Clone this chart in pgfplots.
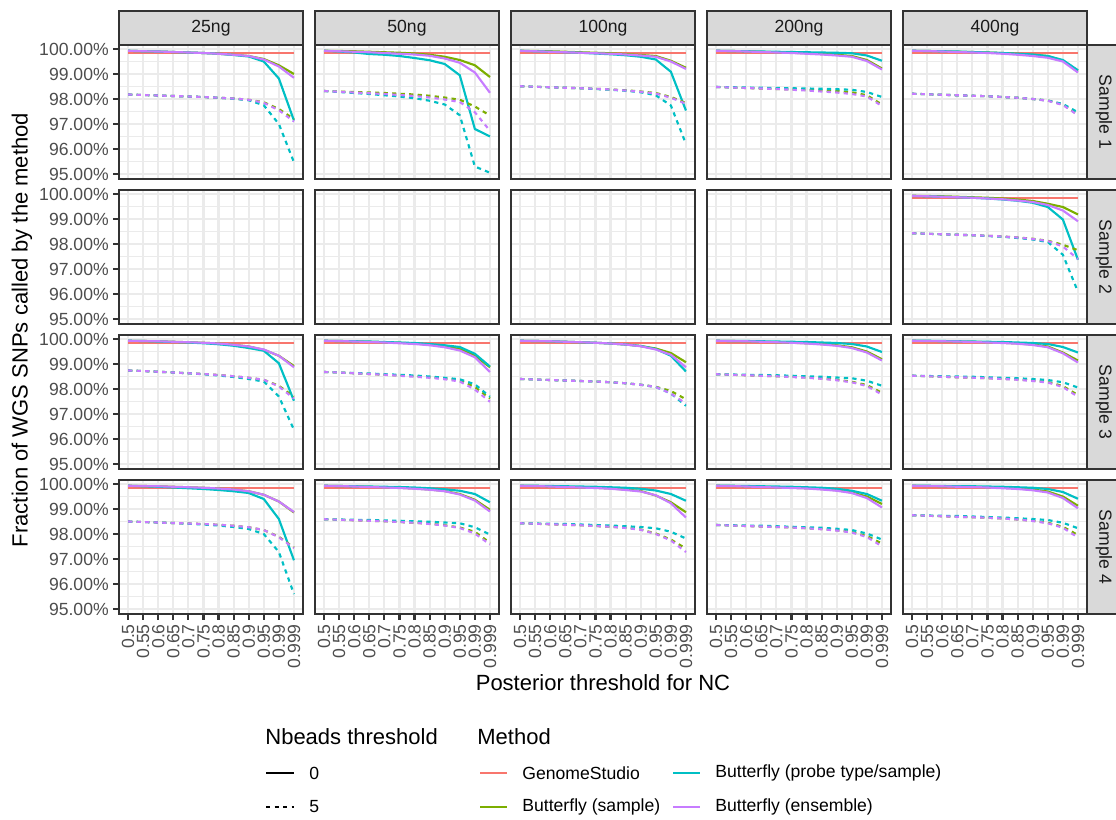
\documentclass[border=0pt]{standalone}
\usepackage{fontspec}
\setmainfont{Liberation Sans}
\usepackage{pgfplots}
\usepackage{pgfplotstable}
\pgfplotsset{compat=1.18}

\definecolor{cR}{HTML}{F8766D}
\definecolor{cG}{HTML}{7CAE00}
\definecolor{cC}{HTML}{00BFC4}
\definecolor{cP}{HTML}{C77CFF}
\definecolor{grey10}{HTML}{1A1A1A}
\definecolor{grey20}{HTML}{333333}
\definecolor{grey30}{HTML}{4D4D4D}
\definecolor{grey85}{HTML}{D9D9D9}
\definecolor{grey92}{HTML}{EBEBEB}

% Sample 1
\pgfplotstableread{
i g s0 p0 e0 s5 p5 e5
0 99.85 99.93 99.93 99.93 98.18 98.18 98.18
1 99.85 99.91 99.91 99.91 98.16 98.16 98.16
2 99.85 99.90 99.90 99.90 98.14 98.14 98.14
3 99.85 99.88 99.88 99.88 98.12 98.12 98.12
4 99.85 99.86 99.86 99.86 98.10 98.10 98.10
5 99.85 99.84 99.84 99.84 98.08 98.08 98.08
6 99.85 99.81 99.81 99.81 98.05 98.05 98.05
7 99.85 99.77 99.76 99.77 98.02 98.01 98.02
8 99.85 99.72 99.70 99.72 97.97 97.95 97.97
9 99.85 99.60 99.50 99.58 97.87 97.75 97.85
10 99.85 99.35 98.82 99.30 97.60 97.00 97.55
11 99.85 99.00 97.14 98.85 97.20 95.47 97.10
}\tAa
\pgfplotstableread{
i g s0 p0 e0 s5 p5 e5
0 99.85 99.93 99.93 99.93 98.32 98.32 98.32
1 99.85 99.92 99.90 99.91 98.30 98.28 98.29
2 99.85 99.91 99.86 99.89 98.28 98.24 98.26
3 99.85 99.89 99.80 99.87 98.26 98.20 98.23
4 99.85 99.87 99.77 99.84 98.24 98.15 98.20
5 99.85 99.85 99.72 99.81 98.21 98.10 98.16
6 99.85 99.82 99.64 99.78 98.18 98.03 98.12
7 99.85 99.77 99.55 99.73 98.13 97.93 98.06
8 99.85 99.69 99.40 99.62 98.06 97.78 97.98
9 99.85 99.56 98.95 99.45 97.97 97.35 97.88
10 99.85 99.35 96.80 99.06 97.70 95.30 97.47
11 99.85 98.88 96.50 98.25 97.34 95.05 96.73
}\tAb
\pgfplotstableread{
i g s0 p0 e0 s5 p5 e5
0 99.85 99.93 99.93 99.93 98.51 98.51 98.51
1 99.85 99.92 99.91 99.91 98.49 98.49 98.49
2 99.85 99.91 99.89 99.89 98.47 98.47 98.47
3 99.85 99.89 99.87 99.87 98.45 98.45 98.45
4 99.85 99.87 99.85 99.85 98.43 98.43 98.43
5 99.85 99.85 99.82 99.83 98.41 98.40 98.41
6 99.85 99.83 99.79 99.81 98.38 98.37 98.38
7 99.85 99.80 99.75 99.78 98.35 98.33 98.34
8 99.85 99.76 99.69 99.74 98.30 98.27 98.29
9 99.85 99.72 99.58 99.69 98.24 98.15 98.22
10 99.85 99.53 99.09 99.50 98.08 97.74 98.05
11 99.85 99.25 97.54 99.20 97.84 96.20 97.81
}\tAc
\pgfplotstableread{
i g s0 p0 e0 s5 p5 e5
0 99.85 99.93 99.93 99.93 98.48 98.48 98.48
1 99.85 99.92 99.92 99.92 98.46 98.47 98.46
2 99.85 99.91 99.91 99.90 98.44 98.46 98.44
3 99.85 99.89 99.90 99.88 98.42 98.45 98.42
4 99.85 99.87 99.89 99.86 98.40 98.44 98.40
5 99.85 99.85 99.88 99.84 98.38 98.43 98.37
6 99.85 99.83 99.87 99.81 98.36 98.42 98.34
7 99.85 99.80 99.86 99.78 98.34 98.41 98.30
8 99.85 99.77 99.85 99.74 98.32 98.39 98.26
9 99.85 99.72 99.83 99.69 98.27 98.37 98.20
10 99.85 99.56 99.74 99.52 98.15 98.28 98.10
11 99.85 99.22 99.53 99.18 97.78 98.08 97.72
}\tAd
\pgfplotstableread{
i g s0 p0 e0 s5 p5 e5
0 99.85 99.93 99.93 99.93 98.21 98.21 98.21
1 99.85 99.92 99.92 99.92 98.19 98.19 98.19
2 99.85 99.91 99.91 99.90 98.17 98.17 98.17
3 99.85 99.89 99.90 99.88 98.15 98.15 98.15
4 99.85 99.88 99.88 99.86 98.13 98.13 98.13
5 99.85 99.86 99.86 99.84 98.11 98.11 98.11
6 99.85 99.84 99.84 99.81 98.08 98.08 98.08
7 99.85 99.81 99.81 99.77 98.05 98.05 98.05
8 99.85 99.77 99.78 99.72 98.00 98.00 98.00
9 99.85 99.72 99.72 99.65 97.94 97.94 97.93
10 99.85 99.53 99.56 99.50 97.78 97.80 97.76
11 99.85 99.13 99.15 99.06 97.37 97.47 97.35
}\tAe
% Sample 2
\pgfplotstableread{
i g s0 p0 e0 s5 p5 e5
0 99.85 99.93 99.92 99.93 98.43 98.43 98.43
1 99.85 99.92 99.91 99.91 98.41 98.41 98.41
2 99.85 99.91 99.89 99.89 98.39 98.39 98.39
3 99.85 99.89 99.87 99.87 98.37 98.37 98.37
4 99.85 99.87 99.85 99.85 98.35 98.35 98.35
5 99.85 99.85 99.82 99.82 98.33 98.32 98.33
6 99.85 99.82 99.78 99.79 98.30 98.29 98.30
7 99.85 99.78 99.73 99.74 98.26 98.24 98.26
8 99.85 99.72 99.65 99.68 98.21 98.18 98.20
9 99.85 99.61 99.48 99.56 98.13 98.08 98.12
10 99.85 99.48 98.98 99.34 97.97 97.57 97.90
11 99.85 99.18 97.37 98.91 97.75 96.09 97.40
}\tBe
% Sample 3
\pgfplotstableread{
i g s0 p0 e0 s5 p5 e5
0 99.85 99.93 99.93 99.93 98.74 98.74 98.74
1 99.85 99.92 99.92 99.92 98.72 98.72 98.72
2 99.85 99.91 99.90 99.91 98.69 98.69 98.69
3 99.85 99.89 99.88 99.89 98.66 98.66 98.66
4 99.85 99.87 99.86 99.87 98.63 98.63 98.63
5 99.85 99.85 99.83 99.85 98.60 98.59 98.60
6 99.85 99.82 99.79 99.82 98.56 98.54 98.56
7 99.85 99.77 99.73 99.77 98.51 98.48 98.51
8 99.85 99.70 99.64 99.70 98.45 98.40 98.45
9 99.85 99.57 99.53 99.58 98.37 98.30 98.37
10 99.85 99.33 99.03 99.33 98.13 97.70 98.10
11 99.85 98.92 97.53 98.87 97.69 96.37 97.62
}\tCa
\pgfplotstableread{
i g s0 p0 e0 s5 p5 e5
0 99.85 99.93 99.93 99.93 98.68 98.68 98.68
1 99.85 99.92 99.92 99.92 98.66 98.66 98.66
2 99.85 99.91 99.91 99.90 98.63 98.64 98.63
3 99.85 99.89 99.90 99.88 98.60 98.62 98.60
4 99.85 99.87 99.88 99.86 98.57 98.59 98.57
5 99.85 99.85 99.86 99.83 98.54 98.57 98.53
6 99.85 99.82 99.84 99.80 98.51 98.54 98.49
7 99.85 99.78 99.80 99.75 98.47 98.50 98.45
8 99.85 99.70 99.75 99.67 98.42 98.45 98.39
9 99.85 99.60 99.68 99.54 98.35 98.39 98.30
10 99.85 99.33 99.41 99.27 98.08 98.19 97.98
11 99.85 98.87 98.90 98.68 97.62 97.69 97.49
}\tCb
\pgfplotstableread{
i g s0 p0 e0 s5 p5 e5
0 99.85 99.93 99.93 99.93 98.40 98.40 98.40
1 99.85 99.92 99.92 99.92 98.38 98.38 98.38
2 99.85 99.91 99.91 99.91 98.36 98.36 98.36
3 99.85 99.89 99.89 99.89 98.34 98.34 98.34
4 99.85 99.87 99.87 99.87 98.32 98.32 98.32
5 99.85 99.85 99.85 99.85 98.30 98.30 98.30
6 99.85 99.82 99.82 99.82 98.27 98.27 98.27
7 99.85 99.78 99.78 99.78 98.23 98.23 98.23
8 99.85 99.72 99.72 99.71 98.17 98.17 98.17
9 99.85 99.62 99.60 99.58 98.09 98.08 98.08
10 99.85 99.44 99.33 99.37 97.92 97.82 97.82
11 99.85 99.07 98.70 98.87 97.59 97.33 97.42
}\tCc
\pgfplotstableread{
i g s0 p0 e0 s5 p5 e5
0 99.85 99.93 99.93 99.93 98.59 98.59 98.59
1 99.85 99.92 99.92 99.92 98.57 98.58 98.57
2 99.85 99.91 99.92 99.91 98.55 98.57 98.55
3 99.85 99.89 99.91 99.89 98.53 98.56 98.53
4 99.85 99.87 99.90 99.87 98.51 98.55 98.51
5 99.85 99.85 99.89 99.85 98.49 98.53 98.48
6 99.85 99.83 99.88 99.82 98.46 98.51 98.45
7 99.85 99.80 99.86 99.78 98.42 98.49 98.41
8 99.85 99.75 99.84 99.73 98.37 98.46 98.35
9 99.85 99.67 99.80 99.64 98.29 98.43 98.27
10 99.85 99.50 99.70 99.46 98.16 98.33 98.12
11 99.85 99.19 99.48 99.14 97.85 98.13 97.78
}\tCd
\pgfplotstableread{
i g s0 p0 e0 s5 p5 e5
0 99.85 99.93 99.93 99.93 98.53 98.53 98.53
1 99.85 99.92 99.93 99.92 98.51 98.52 98.51
2 99.85 99.91 99.92 99.91 98.49 98.51 98.49
3 99.85 99.90 99.91 99.90 98.47 98.50 98.47
4 99.85 99.89 99.90 99.88 98.45 98.49 98.45
5 99.85 99.87 99.89 99.86 98.43 98.47 98.43
6 99.85 99.85 99.88 99.84 98.41 98.45 98.40
7 99.85 99.82 99.86 99.81 98.38 98.43 98.37
8 99.85 99.78 99.84 99.76 98.34 98.40 98.32
9 99.85 99.70 99.80 99.67 98.28 98.36 98.26
10 99.85 99.46 99.68 99.43 98.12 98.27 98.08
11 99.85 99.14 99.46 99.06 97.76 98.06 97.69
}\tCe
% Sample 4
\pgfplotstableread{
i g s0 p0 e0 s5 p5 e5
0 99.85 99.93 99.93 99.93 98.50 98.50 98.50
1 99.85 99.92 99.91 99.92 98.48 98.48 98.48
2 99.85 99.91 99.89 99.91 98.46 98.46 98.46
3 99.85 99.89 99.86 99.89 98.44 98.44 98.44
4 99.85 99.87 99.83 99.87 98.42 98.41 98.42
5 99.85 99.85 99.80 99.85 98.40 98.38 98.40
6 99.85 99.82 99.76 99.82 98.37 98.34 98.37
7 99.85 99.78 99.71 99.78 98.33 98.28 98.33
8 99.85 99.71 99.64 99.71 98.27 98.20 98.27
9 99.85 99.57 99.40 99.57 98.16 98.00 98.16
10 99.85 99.30 98.60 99.30 97.89 97.28 97.87
11 99.85 98.86 96.95 98.88 97.46 95.60 97.44
}\tDa
\pgfplotstableread{
i g s0 p0 e0 s5 p5 e5
0 99.85 99.93 99.93 99.93 98.59 98.59 98.59
1 99.85 99.92 99.92 99.92 98.57 98.58 98.57
2 99.85 99.91 99.91 99.90 98.55 98.57 98.55
3 99.85 99.89 99.90 99.88 98.53 98.56 98.53
4 99.85 99.87 99.89 99.86 98.51 98.54 98.51
5 99.85 99.85 99.88 99.84 98.48 98.53 98.48
6 99.85 99.82 99.86 99.81 98.45 98.51 98.45
7 99.85 99.78 99.83 99.77 98.41 98.49 98.40
8 99.85 99.72 99.79 99.71 98.35 98.46 98.34
9 99.85 99.60 99.73 99.58 98.26 98.43 98.24
10 99.85 99.37 99.60 99.34 98.09 98.27 98.02
11 99.85 98.97 99.27 98.90 97.65 97.98 97.58
}\tDb
\pgfplotstableread{
i g s0 p0 e0 s5 p5 e5
0 99.85 99.93 99.93 99.93 98.43 98.43 98.43
1 99.85 99.92 99.93 99.92 98.41 98.42 98.41
2 99.85 99.91 99.92 99.90 98.39 98.41 98.39
3 99.85 99.89 99.91 99.88 98.37 98.40 98.37
4 99.85 99.87 99.90 99.86 98.35 98.38 98.35
5 99.85 99.85 99.89 99.84 98.32 98.36 98.32
6 99.85 99.82 99.87 99.81 98.29 98.34 98.29
7 99.85 99.78 99.85 99.76 98.25 98.31 98.24
8 99.85 99.72 99.81 99.70 98.18 98.28 98.17
9 99.85 99.54 99.74 99.55 98.02 98.23 98.00
10 99.85 99.27 99.60 99.23 97.78 98.09 97.74
11 99.85 98.87 99.33 98.66 97.42 97.82 97.28
}\tDc
\pgfplotstableread{
i g s0 p0 e0 s5 p5 e5
0 99.85 99.93 99.93 99.93 98.36 98.36 98.36
1 99.85 99.92 99.93 99.92 98.34 98.35 98.34
2 99.85 99.91 99.92 99.90 98.32 98.34 98.32
3 99.85 99.89 99.91 99.88 98.30 98.33 98.30
4 99.85 99.87 99.90 99.86 98.28 98.31 98.28
5 99.85 99.85 99.89 99.84 98.26 98.29 98.26
6 99.85 99.83 99.87 99.82 98.23 98.27 98.23
7 99.85 99.80 99.85 99.78 98.20 98.25 98.19
8 99.85 99.75 99.81 99.73 98.15 98.21 98.14
9 99.85 99.66 99.73 99.64 98.08 98.16 98.06
10 99.85 99.50 99.60 99.44 97.92 98.02 97.88
11 99.85 99.20 99.33 99.06 97.62 97.78 97.51
}\tDd
\pgfplotstableread{
i g s0 p0 e0 s5 p5 e5
0 99.85 99.93 99.93 99.93 98.75 98.75 98.75
1 99.85 99.92 99.93 99.92 98.73 98.74 98.73
2 99.85 99.91 99.92 99.91 98.71 98.73 98.71
3 99.85 99.90 99.91 99.89 98.69 98.72 98.69
4 99.85 99.89 99.91 99.88 98.67 98.70 98.67
5 99.85 99.87 99.90 99.86 98.65 98.68 98.65
6 99.85 99.85 99.89 99.83 98.62 98.66 98.62
7 99.85 99.82 99.87 99.80 98.58 98.63 98.58
8 99.85 99.78 99.85 99.75 98.53 98.60 98.52
9 99.85 99.70 99.80 99.66 98.45 98.56 98.43
10 99.85 99.50 99.68 99.44 98.29 98.45 98.25
11 99.85 99.13 99.41 99.03 97.96 98.23 97.86
}\tDe

\pgfplotsset{
  panel/.style={
    scale only axis, width=92pt, height=67pt, anchor=north west,
    xmin=-0.6, xmax=11.6, ymin=94.8, ymax=100.16,
    xtick={0,1,2,3,4,5,6,7,8,9,10,11}, ytick={95,96,97,98,99,100},
    minor ytick={95.5,96.5,97.5,98.5,99.5}, minor xtick={},
    xmajorgrids, ymajorgrids, yminorgrids,
    major grid style={grey92, line width=1.07pt},
    minor grid style={grey92, line width=0.53pt},
    axis line style={grey20, line width=1.07pt},
    tick align=outside, tick pos=left,
    major tick length=2.75pt, minor tick length=0pt,
    tick style={grey20, line width=1.07pt},
    xticklabels={}, yticklabels={},
    tick label style={font=\fontsize{8.8}{10}\selectfont, text=grey30, inner sep=2.2pt},
    xticklabel style={rotate=90, anchor=east},
    every axis plot/.append style={line width=1.07pt, no marks},
  },
  ylab/.style={yticklabels={95.00\%,96.00\%,97.00\%,98.00\%,99.00\%,100.00\%}},
  noy/.style={ytick style={draw=none}},
  xlab/.style={xticklabels={0.5,0.55,0.6,0.65,0.7,0.75,0.8,0.85,0.9,0.95,0.99,0.999}},
  nox/.style={xtick style={draw=none}},
  dsh/.style={dash pattern=on 2.13pt off 2.13pt},
}

\newcommand{\series}[1]{%
  \addplot[cR] table[x=i,y=g]{#1};
  \addplot[cG] table[x=i,y=s0]{#1};
  \addplot[cC] table[x=i,y=p0]{#1};
  \addplot[cP] table[x=i,y=e0]{#1};
  \addplot[cG,dsh] table[x=i,y=s5]{#1};
  \addplot[cC,dsh] table[x=i,y=p5]{#1};
  \addplot[cP,dsh] table[x=i,y=e5]{#1};
}
\newcommand{\panel}[4]{%
  \begin{axis}[panel, at={(#1*0.5pt,-#2*0.5pt)}, #3]
  #4
  \end{axis}}

\begin{document}
\begin{tikzpicture}
\useasboundingbox (0,0) rectangle (558pt,-410pt);
% row 1
\panel{119}{45}{ylab,nox}{\series{\tAa}}
\panel{315}{45}{noy,nox}{\series{\tAb}}
\panel{511}{45}{noy,nox}{\series{\tAc}}
\panel{707}{45}{noy,nox}{\series{\tAd}}
\panel{903}{45}{noy,nox}{\series{\tAe}}
% row 2
\panel{119}{190}{ylab,nox}{}
\panel{315}{190}{noy,nox}{}
\panel{511}{190}{noy,nox}{}
\panel{707}{190}{noy,nox}{}
\panel{903}{190}{noy,nox}{\series{\tBe}}
% row 3
\panel{119}{335}{ylab,nox}{\series{\tCa}}
\panel{315}{335}{noy,nox}{\series{\tCb}}
\panel{511}{335}{noy,nox}{\series{\tCc}}
\panel{707}{335}{noy,nox}{\series{\tCd}}
\panel{903}{335}{noy,nox}{\series{\tCe}}
% row 4
\panel{119}{480}{ylab,xlab}{\series{\tDa}}
\panel{315}{480}{noy,xlab}{\series{\tDb}}
\panel{511}{480}{noy,xlab}{\series{\tDc}}
\panel{707}{480}{noy,xlab}{\series{\tDd}}
\panel{903}{480}{noy,xlab}{\series{\tDe}}

\begin{scope}[x=0.5pt,y=-0.5pt]
  \foreach \L/\t in {119/25ng,315/50ng,511/100ng,707/200ng,903/400ng}{
    \fill[grey85] (\L,11) rectangle ++(184,34);
    \draw[grey20,line width=1.07pt] (\L,11) rectangle ++(184,34);
    \node[font=\fontsize{8.8}{10}\selectfont, text=grey10] at (\L+92,28) {\t};
  }
  \foreach \T/\t in {45/Sample 1,190/Sample 2,335/Sample 3,480/Sample 4}{
    \fill[grey85] (1087,\T) rectangle ++(34,134);
    \draw[grey20,line width=1.07pt] (1087,\T) rectangle ++(34,134);
    \node[rotate=-90, font=\fontsize{8.8}{10}\selectfont, text=grey10] at (1104,\T+67) {\t};
  }
  % axis titles
  \node[font=\fontsize{11}{13}\selectfont] at (603,683) {Posterior threshold for NC};
  \node[rotate=90, font=\fontsize{11}{13}\selectfont] at (22,330) {Fraction of WGS SNPs called by the method};
  % legend: Nbeads threshold
  \node[anchor=west, inner sep=0pt, font=\fontsize{11}{13}\selectfont] at (265,737) {Nbeads threshold};
  \draw[black, line width=1.07pt] (266,773) -- (294,773);
  \draw[black, line width=1.07pt, dash pattern=on 2.13pt off 2.13pt] (266,807) -- (294,807);
  \node[anchor=west, inner sep=0pt, font=\fontsize{8.8}{10}\selectfont] at (309,773) {0};
  \node[anchor=west, inner sep=0pt, font=\fontsize{8.8}{10}\selectfont] at (309,807) {5};
  % legend: Method
  \node[anchor=west, inner sep=0pt, font=\fontsize{11}{13}\selectfont] at (477,737) {Method};
  \draw[cR, line width=1.07pt] (480,773) -- (507,773);
  \draw[cG, line width=1.07pt] (480,807) -- (507,807);
  \draw[cC, line width=1.07pt] (673,773) -- (700,773);
  \draw[cP, line width=1.07pt] (673,807) -- (700,807);
  \node[anchor=west, inner sep=0pt, font=\fontsize{8.8}{10}\selectfont] at (522,773) {GenomeStudio};
  \node[anchor=west, inner sep=0pt, font=\fontsize{8.8}{10}\selectfont] at (522,807) {Butterfly (sample)};
  \node[anchor=west, inner sep=0pt, font=\fontsize{8.8}{10}\selectfont] at (715,773) {Butterfly (probe type/sample)};
  \node[anchor=west, inner sep=0pt, font=\fontsize{8.8}{10}\selectfont] at (715,807) {Butterfly (ensemble)};
\end{scope}
\end{tikzpicture}
\end{document}
